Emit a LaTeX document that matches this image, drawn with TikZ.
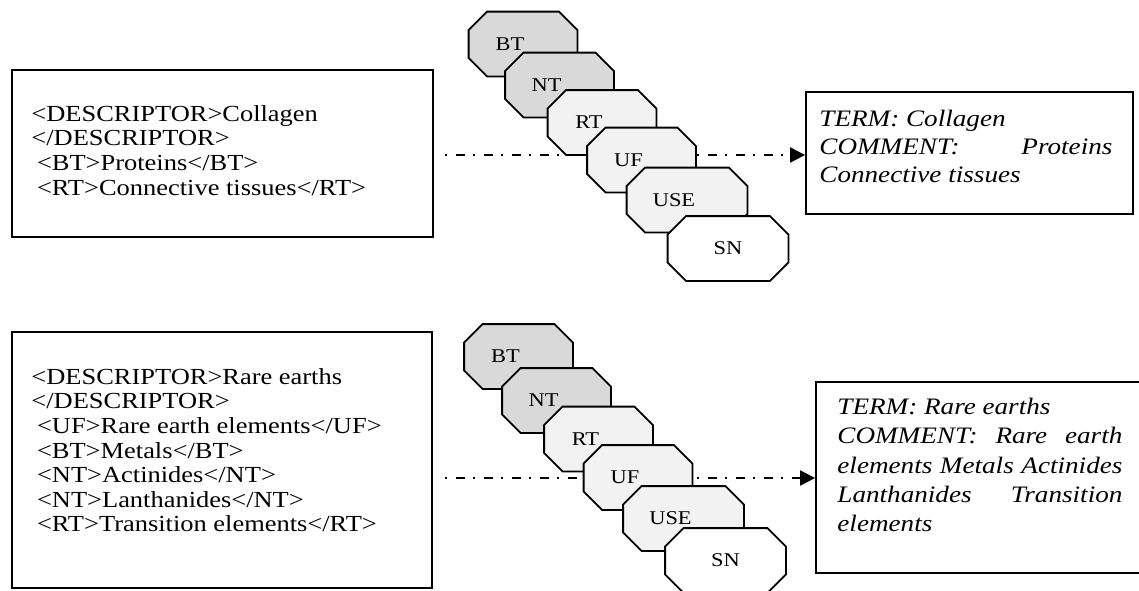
\documentclass[tikz,border=0pt]{standalone}
\usepackage{fontspec}
\setmainfont{Liberation Serif}[FakeStretch=1.15]
\usetikzlibrary{positioning,arrows.meta}
\sloppy\hbadness=10000
\newcommand{\tagind}{\hspace*{2.8pt}}
\tikzset{box/.style={draw,line width=0.9pt,inner sep=0pt},
  oct/.style={inner sep=0pt,minimum width=54pt,minimum height=32pt,
    append after command={\pgfextra{\draw[line width=0.9pt,fill=#1]
      ([xshift=9.25pt]\tikzlastnode.north west) -- ([xshift=-9.25pt]\tikzlastnode.north east)
      -- ([yshift=-9.25pt]\tikzlastnode.north east) -- ([yshift=9.25pt]\tikzlastnode.south east)
      -- ([xshift=-9.25pt]\tikzlastnode.south east) -- ([xshift=9.25pt]\tikzlastnode.south west)
      -- ([yshift=9.25pt]\tikzlastnode.south west) -- ([yshift=-9.25pt]\tikzlastnode.north west)
      -- cycle;}}},
  wide/.style={minimum width=60pt},
  tagtext/.style={font=\fontsize{9.75}{11}\selectfont},
  flow/.style={line width=1pt,dash pattern=on 1pt off 4.25pt on 4.5pt off 4.25pt,
    -{Triangle[length=7.5pt,width=7.5pt]}},
  xmltext/.style={inner sep=0pt,anchor=north west,align=left,
    font=\fontsize{11.5}{12.3}\selectfont},
  termtext/.style={inner sep=0pt,anchor=north west,align=justify,
    font=\fontsize{11.8}{14}\selectfont\itshape}}

\begin{document}
\begin{tikzpicture}[x=0.5pt,y=-0.5pt]
\useasboundingbox (0,0) rectangle (1139,590);
% upper record
\node[box,minimum width=210.5pt,minimum height=83.5pt] (desc1) at (222.5,153.5) {};
\node[xmltext] (xml1) at (31,105)
  {<DESCRIPTOR>Collagen\\</DESCRIPTOR>\\\tagind<BT>Proteins</BT>\\\tagind<RT>Connective tissues</RT>};
\node[box,minimum width=163.5pt,minimum height=61pt] (term1) at (969.5,153) {};
\node[termtext,text width=146.5pt] (term1txt) at (819,110)
  {TERM: Collagen\\COMMENT: Proteins\linebreak Connective tissues};
\coordinate (s1) at (445,155);
\draw[flow] (s1) -- (s1 -| term1.west);
\node[oct=black!15,label={[tagtext,xshift=-6.5pt]center:BT}] (bt1) at (523,44) {};
\node[oct=black!15,label={[tagtext,xshift=-6.5pt]center:NT}] (nt1) at (559.5,85) {};
\node[oct=black!5,label={[tagtext,xshift=-6.5pt]center:RT}] (rt1) at (602,122.5) {};
\node[oct=black!5,label={[tagtext,xshift=-6.5pt]center:UF}] (uf1) at (641.5,160) {};
\node[oct=black!5,wide,label={[tagtext,xshift=-6.5pt]center:USE}] (use1) at (687,200) {};
\node[oct=white,wide,label={[tagtext]center:SN}] (sn1) at (728,248.5) {};

% lower record
\node[box,minimum width=210pt,minimum height=128pt] (desc2) at (222,460) {};
\node[xmltext] (xml2) at (31,368)
  {<DESCRIPTOR>Rare earths\\</DESCRIPTOR>\\\tagind<UF>Rare earth elements</UF>\\\tagind<BT>Metals</BT>\\\tagind<NT>Actinides</NT>\\\tagind<NT>Lanthanides</NT>\\\tagind<RT>Transition elements</RT>};
\node[box,minimum width=172pt,minimum height=95.5pt] (term2) at (988,477.5) {};
\node[termtext,text width=142.5pt,font=\fontsize{11.8}{14.6}\selectfont\itshape] (term2txt) at (837,398)
  {TERM: Rare earths\\COMMENT: Rare earth\linebreak elements Metals Actinides\linebreak Lanthanides Transition\linebreak elements};
\coordinate (s2) at (445,478);
\draw[flow] (s2) -- (s2 -| term2.west);
\node[oct=black!15,label={[tagtext,xshift=-6.5pt]center:BT}] (bt2) at (518.5,356.5) {};
\node[oct=black!15,label={[tagtext,xshift=-6.5pt]center:NT}] (nt2) at (556.5,400.5) {};
\node[oct=black!5,label={[tagtext,xshift=-6.5pt]center:RT}] (rt2) at (598.5,439) {};
\node[oct=black!5,label={[tagtext,xshift=-6.5pt]center:UF}] (uf2) at (638,477.5) {};
\node[oct=black!5,wide,label={[tagtext,xshift=-6.5pt]center:USE}] (use2) at (683.5,518.5) {};
\node[oct=white,wide,label={[tagtext]center:SN}] (sn2) at (725.5,560.5) {};
\end{tikzpicture}
\end{document}
